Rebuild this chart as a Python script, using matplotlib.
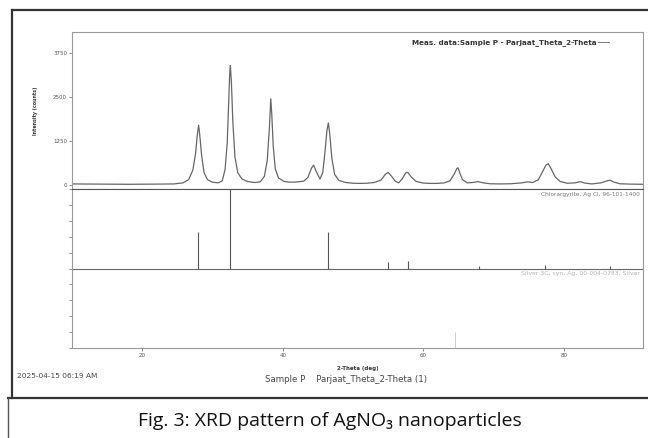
import matplotlib
matplotlib.use("Agg")
import matplotlib.pyplot as plt
from matplotlib.lines import Line2D

two_theta = [10.0, 14.0, 18.0, 22.0, 24.5, 25.8, 26.6, 27.2, 27.6, 27.85, 28.03, 28.2, 28.45, 28.8,
             29.3, 30.0, 30.8, 31.4, 31.8, 32.1, 32.3, 32.45, 32.55, 32.7, 32.9, 33.2, 33.6, 34.2,
             35.0, 36.0, 36.8, 37.4, 37.8, 38.1, 38.3, 38.45, 38.65, 38.95, 39.4, 40.2, 41.0, 42.0,
             43.0, 43.6, 44.1, 44.4, 44.7, 45.3, 45.7, 46.0, 46.3, 46.5, 46.7, 47.0, 47.4, 48.0,
             49.0, 50.0, 51.0, 52.0, 53.0, 54.0, 54.6, 55.0, 55.5, 56.0, 56.5, 57.0, 57.5, 57.8,
             58.3, 59.0, 60.0, 61.0, 62.0, 63.0, 63.8, 64.4, 64.8, 64.96, 65.2, 65.6, 66.3, 67.0,
             67.8, 68.6, 69.5, 71.0, 72.5, 74.0, 74.9, 75.6, 76.4, 77.0, 77.5, 77.8, 78.2, 78.8,
             79.5, 80.5, 81.6, 82.4, 83.0, 84.0, 85.3, 86.2, 86.6, 87.2, 88.0, 89.5, 91.3]
counts = [30, 25, 20, 25, 30, 60, 150, 420, 900, 1450, 1700, 1400, 850, 350,
          150, 80, 60, 120, 450, 1200, 2300, 3150, 3400, 2900, 1800, 800, 350, 170,
          100, 70, 90, 250, 700, 1600, 2450, 2000, 1100, 450, 200, 100, 80, 85,
          110, 220, 480, 565, 420, 170, 350, 900, 1550, 1765, 1450, 750, 300, 130,
          70, 50, 45, 50, 70, 140, 300, 360, 250, 110, 60, 170, 340, 360,
          230, 100, 55, 45, 45, 60, 120, 300, 470, 490, 350, 150, 60, 70,
          95, 60, 35, 30, 35, 60, 90, 70, 150, 380, 570, 605, 470, 230,
          100, 50, 60, 95, 55, 30, 60, 120, 135, 80, 35, 25, 20]

# reference sticks (relative intensity, %)
agcl_pos = [28.0, 32.5, 46.5, 55.0, 57.8, 67.9, 77.4, 86.6]
agcl_int = [46, 100, 46, 8, 10, 3, 5, 3]
ag_pos = [64.6]
ag_int = [-20]

y_ticks = [0, 1250, 2500, 3750]
y_tick_labels = ["0", "1250", "2500", "3750"]
x_ticks = [20, 40, 60, 80]

W, H = 648, 438
fig = plt.figure(figsize=(W / 100, H / 100), dpi=100)
fig.patch.set_facecolor("white")


def fx(px):
    return px / W


def fy(py):
    return 1 - py / H


frame_c = "#9a9a9a"
ax1 = fig.add_axes([fx(72), fy(189), fx(643 - 72), (189 - 32) / H])
ax2 = fig.add_axes([fx(72), fy(348), fx(643 - 72), (348 - 189) / H])

for ax in (ax1, ax2):
    ax.set_xlim(10, 91.3)
    for s in ax.spines.values():
        s.set_color(frame_c)
        s.set_linewidth(0.8)
    ax.tick_params(length=2, width=0.6, color="#777", labelsize=4, labelcolor="#555", pad=1.5)

# top panel: measured data
ax1.plot(two_theta, counts, color="#666666", lw=0.9)
ax1.set_ylim(-114, 4350)
ax1.set_yticks(y_ticks)
ax1.set_yticklabels(y_tick_labels)
ax1.set_xticks([])
ax1.spines["bottom"].set_color("#555")
ax1.set_ylabel("Intensity (counts)", fontsize=3.4, fontweight="bold", color="#333", labelpad=11)
ax1.text(0.919, 0.935, "Meas. data:Sample P - Parjaat_Theta_2-Theta", transform=ax1.transAxes,
         ha="right", va="center", fontsize=5.2, fontweight="bold", color="#333")
ax1.plot([0.922, 0.94], [0.935, 0.935], transform=ax1.transAxes, color="#777", lw=0.7)

# lower panel: reference patterns
ax2.set_ylim(-100, 100)
ax2.set_yticks(range(-100, 101, 20))
ax2.set_yticklabels([])
ax2.axhline(0, color="#666", lw=0.8)
ax2.vlines(agcl_pos, 0, agcl_int, color="#555", lw=0.8)
ax2.vlines(ag_pos, -100, [-100 - v for v in ag_int], color="#cfcfcf", lw=0.7)
ax2.set_xticks(x_ticks)
ax2.set_xticklabels([str(t) for t in x_ticks])
ax2.spines["top"].set_color("#555")
ax2.text(0.995, 0.965, "Chlorargyrite, Ag Cl, 96-101-1400", transform=ax2.transAxes,
         ha="right", va="center", fontsize=4.2, color="#777")
ax2.text(0.995, 0.485, "Silver 3C, syn, Ag, 00-004-0783, Silver", transform=ax2.transAxes,
         ha="right", va="top", fontsize=4.4, color="#b5b5b5")
ax2.set_xlabel("2-Theta (deg)", fontsize=4.0, fontweight="bold", color="#333", labelpad=6)

# footer texts of the instrument printout
fig.text(fx(17), fy(376), "2025-04-15 06:19 AM", fontsize=5.3, color="#444", va="center")
fig.text(fx(265), fy(379), "Sample P    Parjaat_Theta_2-Theta (1)", fontsize=6.2, color="#444",
         va="center")

# scanned frame and caption box
fig.add_artist(Line2D([fx(12), fx(12)], [fy(10), fy(398)], color="#333", lw=1.6))
fig.add_artist(Line2D([fx(12), fx(648)], [fy(10), fy(10)], color="#333", lw=1.6))
fig.add_artist(Line2D([fx(8), fx(648)], [fy(398), fy(398)], color="#333", lw=1.6))
fig.add_artist(Line2D([fx(8), fx(8)], [fy(398), fy(438)], color="#555", lw=1.0))
fig.text(fx(330), fy(421), "Fig. 3: XRD pattern of AgNO\u2083 nanoparticles",
         family=["Open Sans", "DejaVu Sans"], fontsize=14, ha="center", va="center",
         color="#111111")

fig.savefig("out.png", dpi=100)
